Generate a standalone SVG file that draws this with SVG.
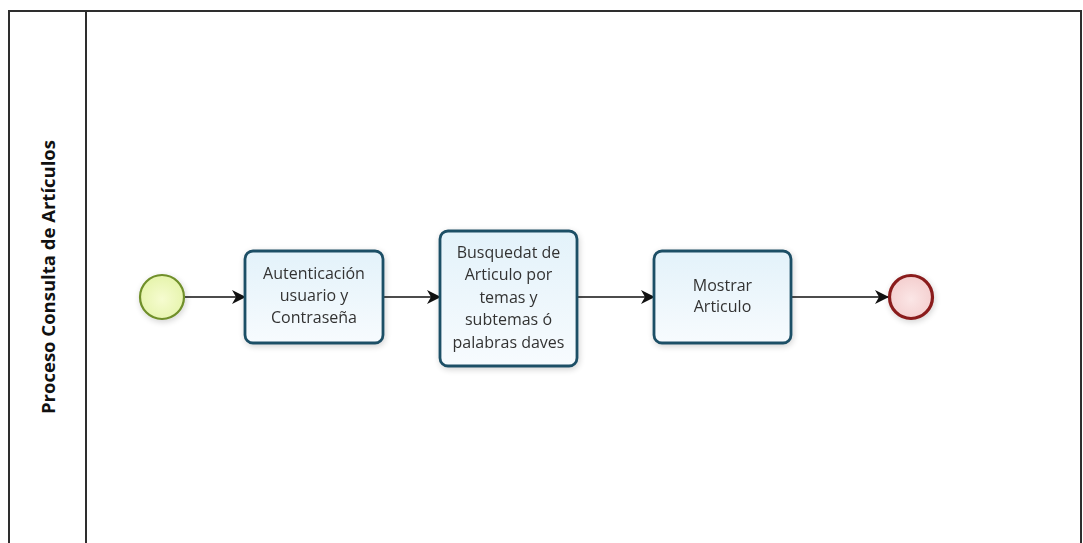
<svg xmlns="http://www.w3.org/2000/svg" width="1083" height="543" viewBox="0 0 1083 543">
  <defs>
    <linearGradient id="taskFill" x1="0" y1="0" x2="0" y2="1">
      <stop offset="0" stop-color="#e3f2fa"/>
      <stop offset="1" stop-color="#f7fbfe"/>
    </linearGradient>
    <radialGradient id="startFill" cx="0.5" cy="0.55" r="0.6">
      <stop offset="0" stop-color="#f6fcd0"/>
      <stop offset="1" stop-color="#e4f3a8"/>
    </radialGradient>
    <radialGradient id="endFill" cx="0.5" cy="0.55" r="0.6">
      <stop offset="0" stop-color="#fbe6e6"/>
      <stop offset="1" stop-color="#f3cccc"/>
    </radialGradient>
    <filter id="glow" x="-20%" y="-20%" width="140%" height="140%">
      <feGaussianBlur in="SourceAlpha" stdDeviation="3"/>
      <feOffset dx="1" dy="2"/>
      <feComponentTransfer><feFuncA type="linear" slope="0.18"/></feComponentTransfer>
      <feMerge><feMergeNode/><feMergeNode in="SourceGraphic"/></feMerge>
    </filter>
    <marker id="arrow" viewBox="0 0 14 14" refX="13" refY="7" markerWidth="14" markerHeight="14" markerUnits="userSpaceOnUse" orient="auto">
      <path d="M0,0 L14,7 L0,14 L4,7 Z" fill="#111"/>
    </marker>
  </defs>
  <style>
    .frame { fill: none; stroke: #2e2e2e; stroke-width: 2; }
    .task { fill: url(#taskFill); stroke: #1f4f66; stroke-width: 2.8; }
    .label { font-family: "Open Sans", "Liberation Sans", sans-serif; font-size: 16px; fill: #333; text-anchor: middle; }
    .lane { font-family: "Open Sans", "Liberation Sans", sans-serif; font-size: 18.5px; font-weight: bold; fill: #111; text-anchor: middle; }
    .flow { fill: none; stroke: #111; stroke-width: 1.3; marker-end: url(#arrow); }
  </style>

  <rect width="1083" height="543" fill="#ffffff"/>

  <!-- pool / lane -->
  <g id="pool">
    <path class="frame" d="M9,560 L9,11 L1081,11 L1081,560"/>
    <line class="frame" x1="86" y1="11" x2="86" y2="560"/>
    <text class="lane" transform="translate(55,277) rotate(-90)">Proceso Consulta de Artículos</text>
  </g>

  <!-- connectors -->
  <g id="connectors">
    <line class="flow" x1="185" y1="297" x2="245" y2="297"/>
    <line class="flow" x1="384" y1="297" x2="440" y2="297"/>
    <line class="flow" x1="578" y1="297" x2="654" y2="297"/>
    <line class="flow" x1="792" y1="297" x2="888" y2="297"/>
  </g>

  <g id="start" filter="url(#glow)">
    <circle cx="162" cy="297" r="22" fill="url(#startFill)" stroke="#6f8f2a" stroke-width="2.2"/>
  </g>

  <g id="task-autenticacion" filter="url(#glow)">
    <rect class="task" x="245" y="251" width="138" height="92" rx="8"/>
    <text class="label" x="314" y="279">Autenticación</text>
    <text class="label" x="314" y="301">usuario y</text>
    <text class="label" x="314" y="323">Contraseña</text>
  </g>

  <g id="task-busqueda" filter="url(#glow)">
    <rect class="task" x="440" y="231" width="137" height="135" rx="8"/>
    <text class="label" x="508.5" y="258">Busquedat de</text>
    <text class="label" x="508.5" y="280">Articulo por</text>
    <text class="label" x="508.5" y="303">temas y</text>
    <text class="label" x="508.5" y="325">subtemas ó</text>
    <text class="label" x="508.5" y="348">palabras daves</text>
  </g>

  <g id="task-mostrar" filter="url(#glow)">
    <rect class="task" x="654" y="251" width="137" height="92" rx="8"/>
    <text class="label" x="722.5" y="291">Mostrar</text>
    <text class="label" x="722.5" y="312">Articulo</text>
  </g>

  <g id="end" filter="url(#glow)">
    <circle cx="911" cy="297" r="21.5" fill="url(#endFill)" stroke="#8a1c1c" stroke-width="3.2"/>
  </g>
</svg>
